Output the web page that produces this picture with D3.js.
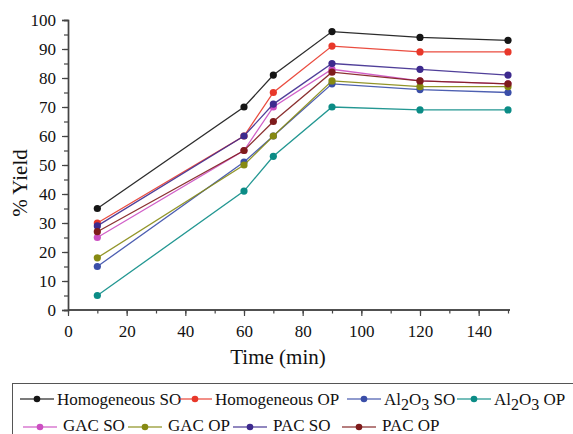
<!DOCTYPE html>
<html><head><meta charset="utf-8">
<script src="https://cdn.jsdelivr.net/npm/d3@7"></script>
<style>body{margin:0;background:#fff}svg{display:block}text{font-family:"Liberation Serif","Times New Roman",serif}</style>
</head><body>
<script>
const times = [10, 60, 70, 90, 120, 150];
const seriesNames = ["Homogeneous SO","Homogeneous OP","Al2O3 SO","Al2O3 OP","GAC SO","GAC OP","PAC SO","PAC OP"];
const homogeneousSO = [35, 70, 81, 96, 94, 93];
const homogeneousOP = [30, 60, 75, 91, 89, 89];
const al2o3SO = [15, 51, 60, 78, 76, 75];
const al2o3OP = [5, 41, 53, 70, 69, 69];
const gacSO = [25, 55, 70, 83, 79, 78];
const gacOP = [18, 50, 60, 79, 77, 77];
const pacSO = [29, 60, 71, 85, 83, 81];
const pacOP = [27, 55, 65, 82, 79, 78];
const seriesValues = [homogeneousSO, homogeneousOP, al2o3SO, al2o3OP, gacSO, gacOP, pacSO, pacOP];
const colors = ["#151515","#e8382a","#3a4ea8","#0b8c86","#cc4fc2","#868a12","#3d2a8e","#7e1b1b"];
const xTicks = [0,20,40,60,80,100,120,140];
const yTicks = [0,10,20,30,40,50,60,70,80,90,100];

const W=573,H=434;
const svg=d3.select("body").append("svg").attr("width",W).attr("height",H);
const x=d3.scaleLinear().domain([0,150]).range([68,508]);
const y=d3.scaleLinear().domain([0,100]).range([310,20]);
const axisColor="#444";
const serif='"Liberation Serif","Times New Roman",serif';

const gx=svg.append("g").attr("transform","translate(0,310)");
gx.call(d3.axisBottom(x).tickValues(d3.range(0,151,10)).tickSize(3.5).tickFormat(""));
gx.append("g").call(d3.axisBottom(x).tickValues(xTicks).tickSize(6).tickPadding(9).tickFormat(d3.format("d")));
gx.selectAll("path.domain").attr("d","M68,0H510");
const gy=svg.append("g").attr("transform","translate(68,0)");
gy.call(d3.axisLeft(y).tickValues(d3.range(0,101,5)).tickSize(4).tickFormat(""));
gy.append("g").call(d3.axisLeft(y).tickValues(yTicks).tickSize(6).tickPadding(6).tickFormat(d3.format("d")));
svg.selectAll("g").attr("font-family",serif);
svg.selectAll(".domain").attr("stroke",axisColor).attr("stroke-width",1.4);
svg.selectAll(".tick line").attr("stroke",axisColor).attr("stroke-width",1.2);
svg.selectAll(".tick text").attr("font-size",17).attr("fill","#111").attr("font-family",serif);

svg.append("text").attr("x",(x(0)+x(150))/2-10).attr("y",364).attr("text-anchor","middle")
  .attr("font-size",21).attr("fill","#111").text("Time (min)");
svg.append("text").attr("transform","translate(27,183) rotate(-90)").attr("text-anchor","middle")
  .attr("font-size",21).attr("fill","#111").text("% Yield");

const line=d3.line().x((d,i)=>x(times[i])).y(d=>y(d));
seriesValues.forEach((vals,k)=>{
  const g=svg.append("g");
  g.append("path").attr("d",line(vals)).attr("fill","none").attr("stroke",colors[k]).attr("stroke-width",1.3).attr("opacity",0.9);
  g.selectAll("circle").data(vals).join("circle").attr("cx",(d,i)=>x(times[i])).attr("cy",d=>y(d)).attr("r",3.6).attr("fill",colors[k]);
});

svg.append("rect").attr("x",12.5).attr("y",383.5).attr("width",600).attr("height",100).attr("fill","none").attr("stroke","#555").attr("stroke-width",1);
const legendPos=[[20,399],[178,399],[347,399],[457,399],[23,427],[128,427],[233,427],[342,427]];
seriesNames.forEach((name,k)=>{
  const [lx,ly]=legendPos[k];
  const g=svg.append("g");
  g.append("line").attr("x1",lx).attr("x2",lx+34).attr("y1",ly).attr("y2",ly).attr("stroke",colors[k]).attr("stroke-width",1.4).attr("opacity",0.75);
  g.append("circle").attr("cx",lx+17).attr("cy",ly).attr("r",3.3).attr("fill",colors[k]);
  const t=g.append("text").attr("x",lx+(k<4?37:40)).attr("y",ly+(k<4?6:4)).attr("font-size",17).attr("fill","#111").attr("font-family",serif);
  if(name.startsWith("Al2O3")){
    t.append("tspan").text("Al");
    t.append("tspan").attr("dy",5).attr("font-size",16).text("2");
    t.append("tspan").attr("dy",-5).text("O");
    t.append("tspan").attr("dy",5).attr("font-size",16).text("3");
    t.append("tspan").attr("dy",-5).text(name.slice(5));
  } else t.text(name);
});
</script>
</body></html>
